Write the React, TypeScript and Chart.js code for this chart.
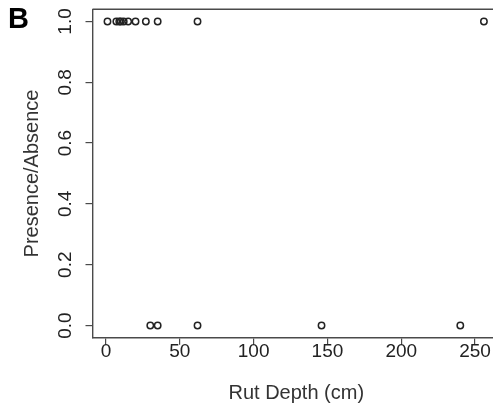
import React, { useEffect, useRef } from "react";
import { Chart, registerables } from "chart.js";

Chart.register(...registerables);

// Rut depth (cm) where the species was present (1) or absent (0)
const presentDepths = [1, 7, 9, 10, 12, 15, 20, 27, 35, 62, 256];
const absentDepths = [30, 35, 62, 146, 240];
const presentValue = 1;
const absentValue = 0;

const xTickValues = [0, 50, 100, 150, 200, 250];
const yTickValues = [0, 0.2, 0.4, 0.6, 0.8, 1.0];

const xTitle = "Rut Depth (cm)";
const yTitle = "Presence/Absence";
const panelLabel = "B";

const FONT = '"Liberation Sans", Arial, Helvetica, sans-serif';
const AXIS_COLOR = "#4a4a4a";

const boxPlugin = {
  id: "boxAndLabel",
  afterDraw(chart: any) {
    const { ctx, chartArea } = chart;
    ctx.save();
    ctx.strokeStyle = AXIS_COLOR;
    ctx.lineWidth = 1.4;
    ctx.beginPath();
    ctx.moveTo(chartArea.left, chartArea.top);
    ctx.lineTo(chartArea.right, chartArea.top);
    ctx.lineTo(chartArea.right, chartArea.bottom);
    ctx.stroke();
    ctx.fillStyle = "#000";
    ctx.font = `bold 29px ${FONT}`;
    ctx.textBaseline = "alphabetic";
    ctx.textAlign = "left";
    ctx.fillText(panelLabel, 8, 28);
    ctx.restore();
  },
};

export default function App() {
  const ref = useRef<HTMLCanvasElement>(null);

  useEffect(() => {
    if (!ref.current) return;
    const pointStyle = {
      pointStyle: "circle" as const,
      pointRadius: 3.2,
      pointBorderWidth: 1.5,
      pointBorderColor: "#222",
      pointBackgroundColor: "rgba(0,0,0,0)",
      showLine: false,
    };
    const chart = new Chart(ref.current, {
      type: "scatter",
      data: {
        datasets: [
          {
            label: "Present",
            data: presentDepths.map((d) => ({ x: d, y: presentValue })),
            ...pointStyle,
          },
          {
            label: "Absent",
            data: absentDepths.map((d) => ({ x: d, y: absentValue })),
            ...pointStyle,
          },
        ],
      },
      options: {
        animation: false,
        responsive: false,
        maintainAspectRatio: false,
        devicePixelRatio: 1,
        layout: { padding: { top: 9.3, left: 0, right: 0, bottom: 0 }, autoPadding: false },
        plugins: { legend: { display: false }, tooltip: { enabled: false } },
        scales: {
          x: {
            type: "linear",
            min: -9.15,
            max: 266.9,
            afterFit: (s: any) => {
              s.height = 71.3;
              s.paddingLeft = 0;
              s.paddingRight = 0;
            },
            afterBuildTicks: (s: any) => {
              s.ticks = xTickValues.map((v) => ({ value: v }));
            },
            grid: {
              display: true,
              drawOnChartArea: false,
              drawTicks: true,
              tickLength: 7,
              color: AXIS_COLOR,
              lineWidth: 1.2,
            },
            border: { display: true, color: AXIS_COLOR, width: 1.4 },
            ticks: {
              color: "#222",
              font: { family: FONT, size: 19, lineHeight: 1 },
              padding: -2.5,
              maxRotation: 0,
              minRotation: 0,
              autoSkip: false,
            },
            title: {
              display: true,
              text: xTitle,
              color: "#333",
              font: { family: FONT, size: 20, lineHeight: 1.2 },
              padding: { top: 0, bottom: 3.5 },
            },
          },
          y: {
            type: "linear",
            min: -0.04,
            max: 1.04,
            afterFit: (s: any) => {
              s.width = 92.5;
              s.paddingTop = 0;
              s.paddingBottom = 0;
            },
            afterBuildTicks: (s: any) => {
              s.ticks = yTickValues.map((v) => ({ value: v }));
            },
            grid: {
              display: true,
              drawOnChartArea: false,
              drawTicks: true,
              tickLength: 7,
              color: AXIS_COLOR,
              lineWidth: 1.2,
            },
            border: { display: true, color: AXIS_COLOR, width: 1.4 },
            ticks: {
              color: "#222",
              font: { family: FONT, size: 19, lineHeight: 1 },
              padding: 6.5,
              minRotation: 90,
              maxRotation: 90,
              crossAlign: "center",
              autoSkip: false,
              callback: (v: any) => Number(v).toFixed(1),
            },
            title: {
              display: true,
              text: yTitle,
              color: "#333",
              font: { family: FONT, size: 20, lineHeight: 1.2 },
              padding: { top: 20, bottom: 0 },
            },
          },
        },
      },
      plugins: [boxPlugin],
    });
    return () => chart.destroy();
  }, []);

  return (
    <div
      style={{
        position: "fixed",
        left: 0,
        top: 0,
        width: 493,
        height: 409,
        overflow: "hidden",
        background: "#fff",
      }}
    >
      <canvas ref={ref} width={500} height={409} style={{ display: "block", width: 500, height: 409 }} />
    </div>
  );
}
